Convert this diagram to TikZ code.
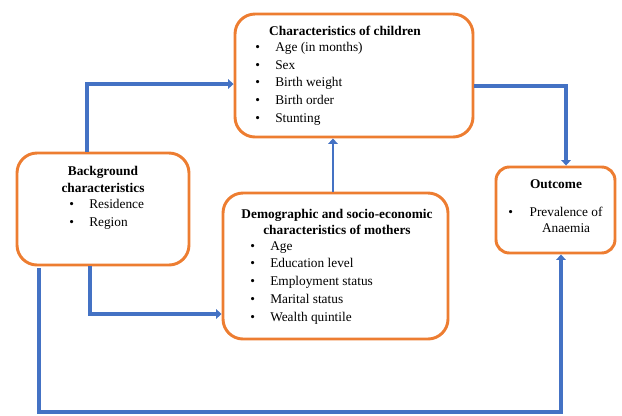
\documentclass[tikz,border=0pt]{standalone}
\usepackage{fontspec}
\setmainfont{Liberation Serif}
\usetikzlibrary{arrows.meta}
\newlength{\px}
\setlength{\px}{0.75pt}
\newcommand{\itm}[1]{\makebox[15pt][l]{\textbullet}#1}
\definecolor{boxorange}{RGB}{237,125,49}
\definecolor{linkblue}{RGB}{68,114,196}

\begin{document}
\begin{tikzpicture}[x=\px, y=-\px,
    box/.style={draw=boxorange, line width=2.2pt, rounded corners=15pt, fill=white, inner sep=0pt},
    title/.style={font=\fontsize{10}{12.5}\selectfont\bfseries, align=center, inner sep=0pt},
    lst/.style={font=\fontsize{10}{13.3}\selectfont, align=left, inner sep=0pt, anchor=north west},
    link/.style={draw=linkblue, line width=3pt, -{Triangle[length=4pt,width=7pt]}}]
    \useasboundingbox (0,0) rectangle (622,415);
    % Boxes
    \node[box, minimum width=238\px, minimum height=123\px] (child) at (354,75.5) {};
    \node[box, minimum width=172\px, minimum height=112\px] (bg) at (103,209) {};
    \node[box, minimum width=225\px, minimum height=146\px] (demo) at (335.5,266) {};
    \node[box, rounded corners=10pt, minimum width=119\px, minimum height=86\px] (out) at (555.5,210) {};

    % Texts
    \node[title] (child-title) at (345,31) {Characteristics of children};
    \node[lst] (child-list) at (255,42) {\itm{Age (in months)}\\ \itm{Sex}\\ \itm{Birth weight}\\ \itm{Birth order}\\ \itm{Stunting}};

    \node[title] (bg-title) at (103,179.5) {Background\\ characteristics};
    \node[lst] (bg-list) at (69,199) {\itm{Residence}\\ \itm{Region}};

    \node[title] (demo-title) at (337,222) {Demographic and socio-economic\\ characteristics of mothers};
    \node[lst] (demo-list) at (250,241) {\itm{Age}\\ \itm{Education level}\\ \itm{Employment status}\\ \itm{Marital status}\\ \itm{Wealth quintile}};

    \node[title] (out-title) at (556,184) {Outcome};
    \node[lst] (out-list) at (508,204) {\makebox[16pt][l]{\textbullet}\begin{tabular}[t]{@{}c@{}}Prevalence of\\[-1.5pt] Anaemia\end{tabular}};

    % Connectors
    \draw[link] ([xshift=-12pt]bg.north) |- ([yshift=-6.4pt]child.west);
    \draw[link] ([yshift=-7.9pt]child.east) -| ([xshift=7.9pt]out.north);
    \draw[link, line width=2pt] ([xshift=-1.9pt]demo.north) -- ([xshift=-1.9pt]demo.north |- child.south);
    \draw[link] ([xshift=-9.75pt]bg.south) |- ([yshift=-36pt]demo.west);
    \coordinate (loop-start) at (39,268);
    \coordinate (loop-end) at (561,412);
    \draw[link] (loop-start) |- (loop-end) -- (loop-end |- out.south);
\end{tikzpicture}
\end{document}
